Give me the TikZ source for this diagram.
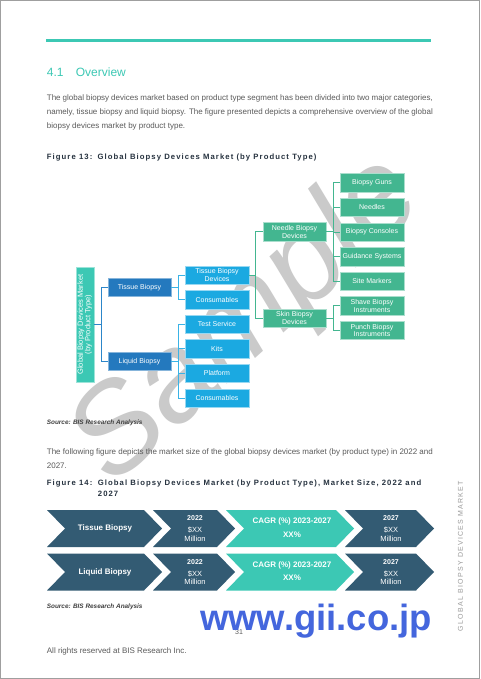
\documentclass[tikz,border=0pt]{standalone}
\usepackage{fontspec}
\setmainfont{Liberation Sans}
\newfontfamily\capfont[LetterSpace=14]{Liberation Sans}
\newfontfamily\sidefont[LetterSpace=18]{Liberation Sans}
\definecolor{teal1}{HTML}{3CC8B4}
\definecolor{navy}{HTML}{26323F}
\definecolor{txtgray}{HTML}{5A5A5A}
\definecolor{dblue}{HTML}{2479BE}
\definecolor{lblue}{HTML}{1BA9E1}
\definecolor{grn}{HTML}{43B690}
\definecolor{chev}{HTML}{335B73}
\definecolor{wm}{HTML}{CACACA}
\definecolor{gii}{HTML}{4466DD}
\definecolor{ln1c}{HTML}{2C86C9}
\definecolor{ln2c}{HTML}{3AB3E6}
\tikzset{
  para/.style={anchor=west, inner sep=0pt, text=txtgray, font=\fontsize{8}{10}\selectfont},
  capt/.style={anchor=west, inner sep=0pt, text=navy, font=\capfont\bfseries\fontsize{7.7}{9}\selectfont},
  src/.style={anchor=west, inner sep=0pt, text=black!75, font=\bfseries\itshape\fontsize{6.4}{8}\selectfont},
  tbox/.style={minimum height=18.3pt, inner sep=0pt, align=center, text=white, font=\fontsize{7}{7.6}\selectfont},
  bdark/.style={tbox, fill=dblue, draw=dblue!55!white, minimum width=63pt},
  blight/.style={tbox, fill=lblue, draw=lblue!45!white, minimum width=64pt},
  bgreen/.style={tbox, fill=grn, draw=grn!45!white, minimum width=63pt},
  broot/.style={tbox, fill=teal1, draw=teal1!50!white, minimum width=115pt, minimum height=18pt, rotate=90, font=\fontsize{7.5}{7.7}\selectfont},
  ln1/.style={draw=ln1c, line width=0.8pt},
  ln2/.style={draw=ln2c, line width=0.8pt},
  ln3/.style={draw=grn, line width=0.8pt},
  chtext/.style={inner sep=0pt, align=center, text=white},
}
\newcommand{\chevshape}[5]{%
  \fill[#5] (#1,#3) -- (#2,#3) -- ({#2+18},{(#3+#4)/2}) -- (#2,#4) -- (#1,#4) -- ({#1+18},{(#3+#4)/2}) -- cycle;}
\begin{document}
\begin{tikzpicture}[x=1pt,y=-1pt]
\useasboundingbox (0,0) rectangle (480,679);
\fill[white] (0,0) rectangle (480,679);

% watermark
\node[text=wm, font=\itshape\fontsize{125}{125}\selectfont, rotate=42, inner sep=0pt] (wmark) at (248,322) {Sample};

% page frame
\draw[gray!75, line width=1pt] (0.5,0.5) rectangle (479.5,678.5);

% top rule and heading
\draw[teal1, line width=3pt] (46,41) -- (431,41);
\node[anchor=west, inner sep=0pt, text=teal1, font=\fontsize{12}{14}\selectfont] (hnum) at (46.7,72.7) {4.1};
\node[anchor=west, inner sep=0pt, text=teal1, font=\fontsize{12}{14}\selectfont] (htitle) at (75.7,72.7) {Overview};

\node[para] (p1) at (46.7,98) {\makebox[386pt][s]{The global biopsy devices market based on product type segment has been divided into two major categories,}};
\node[para] (p2) at (46.7,112.3) {\makebox[386pt][s]{namely, tissue biopsy and liquid biopsy. The figure presented depicts a comprehensive overview of the global}};
\node[para] (p3) at (46.7,126.7) {biopsy devices market by product type.};

\node[capt] (f13a) at (46.7,158) {Figure 13:};
\node[capt] (f13b) at (97.3,158) {Global Biopsy Devices Market (by Product Type)};

% tree
\node[broot] (root) at (84.7,324.5) {Global Biopsy Devices Market\\(by Product Type)};
\node[bdark] (tb) at (139.5,287.5) {Tissue Biopsy};
\node[bdark] (lb) at (139.5,361.3) {Liquid Biopsy};
\node[blight] (tbd) at (217,275) {Tissue Biopsy\\Devices};
\node[blight] (cons1) at (217,299.6) {Consumables};
\node[blight] (ts) at (217,324.2) {Test Service};
\node[blight] (kits) at (217,348.8) {Kits};
\node[blight] (plat) at (217,373.4) {Platform};
\node[blight] (cons2) at (217,398) {Consumables};
\node[bgreen] (nbd) at (294.5,231.8) {Needle Biopsy\\Devices};
\node[bgreen] (sbd) at (294.5,318.2) {Skin Biopsy\\Devices};
\node[bgreen, minimum width=64pt] (guns) at (372,182.8) {Biopsy Guns};
\node[bgreen, minimum width=64pt] (needles) at (372,207.4) {Needles};
\node[bgreen, minimum width=64pt] (consoles) at (372,232) {Biopsy Consoles};
\node[bgreen, minimum width=64pt] (guid) at (372,256.6) {Guidance Systems};
\node[bgreen, minimum width=64pt] (site) at (372,281.2) {Site Markers};
\node[bgreen, minimum width=64pt] (shave) at (372,305.8) {Shave Biopsy\\Instruments};
\node[bgreen, minimum width=64pt] (punch) at (372,330.4) {Punch Biopsy\\Instruments};

\draw[ln1] (root.south) -- ++(7,0) coordinate (j0);
\draw[ln1] (j0) |- (tb.west);
\draw[ln1] (j0) |- (lb.west);
\draw[ln2] (tb.east) -- ++(7,0) coordinate (j1);
\draw[ln2] (j1) |- (tbd.west);
\draw[ln2] (j1) |- (cons1.west);
\draw[ln2] (lb.east) -- ++(7,0) coordinate (j2);
\foreach \t in {ts,kits,plat,cons2} \draw[ln2] (j2) |- (\t.west);
\draw[ln3] (tbd.east) -- ++(6,0) coordinate (j3);
\draw[ln3] (j3) |- (nbd.west);
\draw[ln3] (j3) |- (sbd.west);
\draw[ln3] (nbd.east) -- ++(7,0) coordinate (j4);
\foreach \t in {guns,needles,consoles,guid,site} \draw[ln3] (j4) |- (\t.west);
\draw[ln3] (sbd.east) -- ++(7,0) coordinate (j5);
\foreach \t in {shave,punch} \draw[ln3] (j5) |- (\t.west);

\node[src] (s1) at (46.7,423) {Source: BIS Research Analysis};

\node[para] (q1) at (46.7,452) {\makebox[386pt][s]{The following figure depicts the market size of the global biopsy devices market (by product type) in 2022 and}};
\node[para] (q2) at (46.7,465.5) {2027.};

\node[capt] (f14a) at (46.7,483.7) {Figure 14:};
\node[capt] (f14b) at (97.7,483.7) {Global Biopsy Devices Market (by Product Type), Market Size, 2022 and};
\node[capt] (f14c) at (97.7,494) {2027};

% chevrons
\chevshape{47}{144}{510}{547}{chev}
\chevshape{153}{217}{510}{547}{chev}
\chevshape{226}{336}{510}{547}{teal1}
\chevshape{345}{416}{510}{547}{chev}
\chevshape{47}{144}{553.5}{590.5}{chev}
\chevshape{153}{217}{553.5}{590.5}{chev}
\chevshape{226}{336}{553.5}{590.5}{teal1}
\chevshape{345}{416}{553.5}{590.5}{chev}

\node[chtext, font=\bfseries\fontsize{8}{9}\selectfont] (r1a) at (105,528.5) {Tissue Biopsy};
\node[chtext, font=\bfseries\fontsize{7}{8}\selectfont] (r1b1) at (195,518.3) {2022};
\node[chtext, font=\fontsize{7.5}{8.5}\selectfont] (r1b2) at (195,530) {\$XX};
\node[chtext, font=\fontsize{7.5}{8.5}\selectfont] (r1b3) at (195,538.5) {Million};
\node[chtext, font=\bfseries\fontsize{8}{9}\selectfont] (r1c1) at (292,521.7) {CAGR (\%) 2023-2027};
\node[chtext, font=\bfseries\fontsize{8}{9}\selectfont] (r1c2) at (292,534.3) {XX\%};
\node[chtext, font=\bfseries\fontsize{7}{8}\selectfont] (r1d1) at (391,518.3) {2027};
\node[chtext, font=\fontsize{7.5}{8.5}\selectfont] (r1d2) at (391,530) {\$XX};
\node[chtext, font=\fontsize{7.5}{8.5}\selectfont] (r1d3) at (391,538.5) {Million};

\node[chtext, font=\bfseries\fontsize{8}{9}\selectfont] (r2a) at (105,572) {Liquid Biopsy};
\node[chtext, font=\bfseries\fontsize{7}{8}\selectfont] (r2b1) at (195,561.8) {2022};
\node[chtext, font=\fontsize{7.5}{8.5}\selectfont] (r2b2) at (195,573.5) {\$XX};
\node[chtext, font=\fontsize{7.5}{8.5}\selectfont] (r2b3) at (195,582) {Million};
\node[chtext, font=\bfseries\fontsize{8}{9}\selectfont] (r2c1) at (292,565.2) {CAGR (\%) 2023-2027};
\node[chtext, font=\bfseries\fontsize{8}{9}\selectfont] (r2c2) at (292,577.8) {XX\%};
\node[chtext, font=\bfseries\fontsize{7}{8}\selectfont] (r2d1) at (391,561.8) {2027};
\node[chtext, font=\fontsize{7.5}{8.5}\selectfont] (r2d2) at (391,573.5) {\$XX};
\node[chtext, font=\fontsize{7.5}{8.5}\selectfont] (r2d3) at (391,582) {Million};

\node[src] (s2) at (46.7,606.7) {Source: BIS Research Analysis};

\node[inner sep=0pt, text=txtgray, font=\fontsize{7}{8}\selectfont] (pg) at (239,632) {31};
\node[anchor=base west, inner sep=0pt, text=gii, font=\bfseries\fontsize{36.5}{40}\selectfont] (www) at (200,630) {www.gii.co.jp};

\node[para] (rights) at (46.7,651.7) {All rights reserved at BIS Research Inc.};

\node[rotate=90, inner sep=0pt, text=gray!80, font=\sidefont\fontsize{7}{8}\selectfont] (side) at (460.5,556) {GLOBAL BIOPSY DEVICES MARKET};
\end{tikzpicture}
\end{document}
